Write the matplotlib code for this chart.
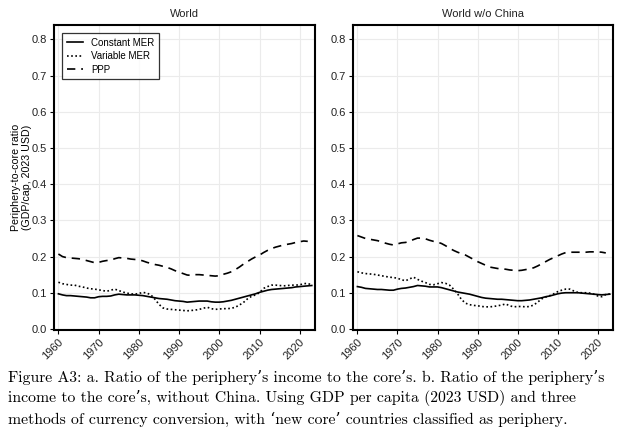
import numpy as np
import matplotlib
matplotlib.use("Agg")
import matplotlib.pyplot as plt

# years shown on both panels
years = list(range(1960, 2024))
ppp_years = list(range(1960, 2023))

# World
world_const = [0.097, 0.094, 0.092, 0.092, 0.091, 0.090, 0.089, 0.088, 0.086, 0.086,
               0.089, 0.090, 0.090, 0.091, 0.094, 0.096, 0.095, 0.094, 0.094, 0.094,
               0.093, 0.092, 0.090, 0.088, 0.086, 0.084, 0.083, 0.082, 0.080, 0.078,
               0.077, 0.076, 0.074, 0.075, 0.076, 0.077, 0.077, 0.077, 0.075, 0.074,
               0.074, 0.075, 0.077, 0.079, 0.082, 0.085, 0.088, 0.091, 0.094, 0.097,
               0.101, 0.104, 0.107, 0.109, 0.110, 0.111, 0.112, 0.113, 0.114, 0.116,
               0.117, 0.118, 0.119, 0.120]
world_var = [0.129, 0.125, 0.123, 0.121, 0.121, 0.118, 0.116, 0.113, 0.111, 0.110,
             0.108, 0.106, 0.104, 0.107, 0.110, 0.106, 0.102, 0.099, 0.097, 0.096,
             0.098, 0.101, 0.099, 0.094, 0.082, 0.068, 0.058, 0.055, 0.054, 0.053,
             0.052, 0.051, 0.050, 0.051, 0.052, 0.054, 0.057, 0.060, 0.056, 0.054,
             0.055, 0.056, 0.056, 0.057, 0.060, 0.066, 0.073, 0.083, 0.090, 0.094,
             0.100, 0.112, 0.117, 0.121, 0.121, 0.120, 0.119, 0.120, 0.121, 0.121,
             0.122, 0.125, 0.126, 0.121]
world_ppp = [0.207, 0.200, 0.197, 0.196, 0.195, 0.194, 0.192, 0.189, 0.186, 0.183,
             0.184, 0.187, 0.189, 0.190, 0.194, 0.197, 0.196, 0.195, 0.193, 0.192,
             0.191, 0.188, 0.184, 0.181, 0.178, 0.176, 0.173, 0.170, 0.166, 0.161,
             0.157, 0.153, 0.149, 0.148, 0.150, 0.150, 0.149, 0.148, 0.147, 0.146,
             0.147, 0.151, 0.154, 0.158, 0.164, 0.171, 0.179, 0.186, 0.193, 0.199,
             0.204, 0.211, 0.217, 0.222, 0.226, 0.229, 0.232, 0.234, 0.236, 0.239,
             0.241, 0.243, 0.242]

# World without China
nochina_const = [0.117, 0.115, 0.112, 0.111, 0.110, 0.109, 0.109, 0.108, 0.107, 0.107,
                 0.110, 0.112, 0.113, 0.115, 0.117, 0.120, 0.119, 0.118, 0.116, 0.116,
                 0.116, 0.114, 0.111, 0.108, 0.105, 0.102, 0.100, 0.098, 0.096, 0.093,
                 0.090, 0.087, 0.085, 0.084, 0.083, 0.082, 0.082, 0.081, 0.080, 0.079,
                 0.078, 0.078, 0.079, 0.080, 0.082, 0.084, 0.086, 0.089, 0.091, 0.094,
                 0.097, 0.099, 0.100, 0.100, 0.100, 0.100, 0.099, 0.098, 0.097, 0.096,
                 0.095, 0.094, 0.095, 0.096]
nochina_var = [0.158, 0.155, 0.153, 0.152, 0.151, 0.149, 0.147, 0.145, 0.143, 0.142,
               0.140, 0.136, 0.133, 0.138, 0.143, 0.137, 0.132, 0.128, 0.123, 0.122,
               0.125, 0.128, 0.126, 0.121, 0.110, 0.097, 0.081, 0.071, 0.067, 0.065,
               0.064, 0.062, 0.061, 0.061, 0.062, 0.064, 0.066, 0.069, 0.064, 0.061,
               0.062, 0.062, 0.061, 0.062, 0.066, 0.074, 0.083, 0.088, 0.092, 0.097,
               0.103, 0.107, 0.110, 0.110, 0.105, 0.101, 0.100, 0.100, 0.099, 0.096,
               0.091, 0.089, 0.095, 0.097]
nochina_ppp = [0.258, 0.254, 0.250, 0.248, 0.246, 0.244, 0.241, 0.237, 0.234, 0.232,
               0.235, 0.238, 0.239, 0.242, 0.247, 0.251, 0.251, 0.249, 0.245, 0.242,
               0.240, 0.236, 0.230, 0.223, 0.217, 0.212, 0.208, 0.204, 0.198, 0.192,
               0.186, 0.181, 0.176, 0.171, 0.169, 0.167, 0.166, 0.165, 0.163, 0.162,
               0.161, 0.162, 0.164, 0.166, 0.169, 0.174, 0.180, 0.186, 0.192, 0.197,
               0.202, 0.207, 0.211, 0.212, 0.212, 0.212, 0.212, 0.212, 0.213, 0.213,
               0.213, 0.212, 0.210]

panel_titles = ["World", "World w/o China"]
series_labels = ["Constant MER", "Variable MER", "PPP"]
x_ticks = [1960, 1970, 1980, 1990, 2000, 2010, 2020]
y_ticks = [0.0, 0.1, 0.2, 0.3, 0.4, 0.5, 0.6, 0.7, 0.8]

caption = ("Figure A3: a. Ratio of the periphery\u2019s income to the core\u2019s. b. Ratio of the periphery\u2019s\n"
           "income to the core\u2019s, without China. Using GDP per capita (2023 USD) and three\n"
           "methods of currency conversion, with \u2018new core\u2019 countries classified as periphery.")

plt.rcParams["font.family"] = ["Liberation Sans", "DejaVu Sans"]

fig = plt.figure(figsize=(6.3, 4.33), dpi=100)
ax1 = fig.add_axes([54 / 630, 103 / 433, 261 / 630, 305 / 433])
ax2 = fig.add_axes([353 / 630, 103 / 433, 260 / 630, 305 / 433])

panels = [
    (ax1, world_const, world_var, world_ppp),
    (ax2, nochina_const, nochina_var, nochina_ppp),
]

for i, (ax, c, v, p) in enumerate(panels):
    ax.plot(years, c, color="black", lw=1.2, ls="-", label=series_labels[0])
    ax.plot(years, v, color="black", lw=1.2, ls=(0, (1, 1.5)), label=series_labels[1])
    ax.plot(ppp_years, p, color="black", lw=1.2, ls=(0, (5, 3.5)), label=series_labels[2])

    ax.set_xlim(1958.9, 2023.8)
    ax.set_ylim(-0.003, 0.84)
    ax.set_xticks(x_ticks)
    ax.set_yticks(y_ticks)
    ax.set_yticklabels(["%.1f" % t for t in y_ticks])
    ax.set_xticklabels([str(t) for t in x_ticks], rotation=45, ha="right",
                       rotation_mode="anchor")
    ax.grid(True, color="#ebebeb", lw=0.8)
    ax.set_axisbelow(True)
    ax.tick_params(axis="both", length=3, width=0.8, color="black",
                   labelsize=8, labelcolor="#222222", pad=2)
    for s in ax.spines.values():
        s.set_linewidth(1.5)
        s.set_color("black")
    ax.set_title(panel_titles[i], fontsize=8, pad=6, color="#222222")

ax1.set_ylabel("Periphery-to-core ratio\n(GDP/cap, 2023 USD)", fontsize=7.7,
               linespacing=1.05, labelpad=0)

leg = ax1.legend(loc="upper left", bbox_to_anchor=(0.031, 0.974), borderaxespad=0,
                 fontsize=7, frameon=True, fancybox=False, edgecolor="black",
                 handlelength=1.7, handletextpad=0.8, borderpad=0.5,
                 labelspacing=0.35)
leg.get_frame().set_linewidth(0.9)

fig.text(8 / 630, 1 - 370 / 433, caption, fontsize=11.3, va="top", ha="left",
         family=["cmr10", "DejaVu Serif"], linespacing=1.45)

fig.savefig("out.png", dpi=100)
